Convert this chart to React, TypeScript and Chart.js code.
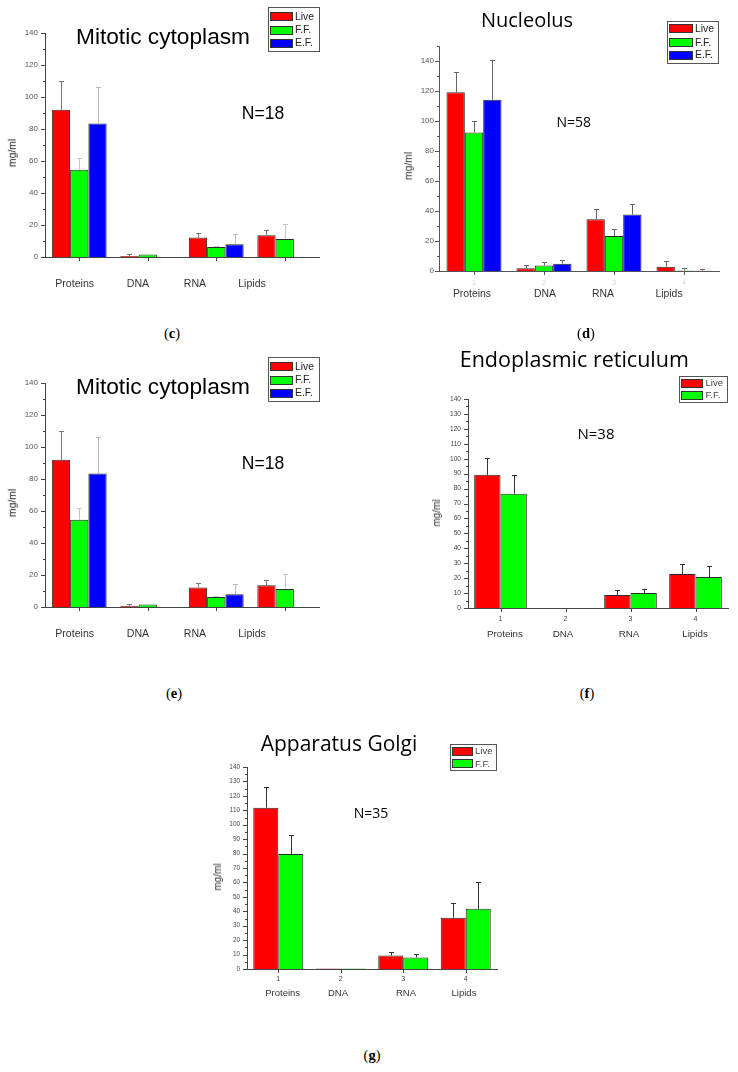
import React, { useEffect, useRef } from 'react';
import { Chart, registerables } from 'chart.js';

Chart.register(...registerables);

// ---------- DATA ----------
const categories = ['Proteins', 'DNA', 'RNA', 'Lipids'];
const tickNumbers = ['1', '2', '3', '4'];
const seriesNames = ['Live', 'F.F.', 'E.F.'];

// (c) and (e): Mitotic cytoplasm, N=18
const mitoticLive = [92, 0.7, 12.2, 13.6];
const mitoticLiveErr = [17.8, 1.0, 2.6, 3.5];
const mitoticFF = [54.5, 1.5, 6.2, 11.2];
const mitoticFFErr = [7.5, 0, 0.8, 9.3];
const mitoticEF = [83.5, null, 7.9, null];
const mitoticEFErr = [23, 0, 6.3, 0];
const mitoticYTicks = [0, 20, 40, 60, 80, 100, 120, 140];

// (d): Nucleolus, N=58
const nucleolusLive = [119.1, 1.8, 34.5, 2.9];
const nucleolusLiveErr = [13.3, 2.5, 6.7, 3.6];
const nucleolusFF = [92.4, 3.6, 23.3, 0.4];
const nucleolusFFErr = [7.8, 2.7, 4.4, 1.8];
const nucleolusEF = [114.2, 4.9, 37.6, 0.2];
const nucleolusEFErr = [26.7, 2.7, 6.9, 0.9];
const nucleolusYTicks = [0, 20, 40, 60, 80, 100, 120, 140];

// (f): Endoplasmic reticulum, N=38
const erLive = [89.2, null, 8.7, 22.7];
const erLiveErr = [11.1, 0, 3.3, 6.7];
const erFF = [76.5, null, 10, 20.7];
const erFFErr = [12.4, 0, 2.7, 7.6];
const erYTicks = [0, 10, 20, 30, 40, 50, 60, 70, 80, 90, 100, 110, 120, 130, 140];

// (g): Apparatus Golgi, N=35
const golgiLive = [111.7, 0.4, 9.3, 35.5];
const golgiLiveErr = [14.4, 0, 2.5, 10.2];
const golgiFF = [79.7, 0.4, 7.9, 41.7];
const golgiFFErr = [13.5, 0, 2.5, 18.3];
const golgiYTicks = [0, 10, 20, 30, 40, 50, 60, 70, 80, 90, 100, 110, 120, 130, 140];

// ---------- STYLE ----------
const RED = '#ff0000';
const GREEN = '#00ff00';
const BLUE = '#0000ff';
const SANS = '"Liberation Sans", Arial, sans-serif';
const CAL = '"Open Sans", sans-serif';
const SERIF = '"Liberation Serif", "DejaVu Serif", serif';

const PAD_L = 50;
const PAD_T = 15;
const PAD_R = 8;
const PAD_B = 30;

type Series = {
  label: string;
  color: string;
  data: (number | null)[];
  errors: number[];
  errorColor: string;
};

type Spec = {
  area: { l: number; t: number; r: number; b: number };
  yMax: number;
  yTicks: number[];
  minorStep: number;
  series: Series[];
  catPct: number;
  yFont: number;
  yPad: number;
  tickColor: string;
  axisColor: string;
  showNumbers: boolean;
  numColor: string;
  numFont: number;
  numPad: number;
};

const errorBarsPlugin = {
  id: 'errorBars',
  afterDatasetsDraw(chart: any) {
    const { ctx } = chart;
    const y = chart.scales.y;
    chart.data.datasets.forEach((ds: any, di: number) => {
      const meta = chart.getDatasetMeta(di);
      if (!ds.errors) return;
      meta.data.forEach((el: any, i: number) => {
        const v = ds.data[i];
        const e = ds.errors[i];
        if (v == null || !e) return;
        const x = Math.round(el.x) + 0.5;
        const yTop = Math.round(y.getPixelForValue(v + e)) + 0.5;
        const yBase = el.y;
        ctx.save();
        ctx.strokeStyle = ds.errorColor;
        ctx.lineWidth = 1;
        ctx.beginPath();
        ctx.moveTo(x, yBase);
        ctx.lineTo(x, yTop);
        ctx.moveTo(x - 2.5, yTop);
        ctx.lineTo(x + 2.5, yTop);
        ctx.stroke();
        ctx.restore();
      });
    });
  },
};

const tickMarksPlugin = {
  id: 'tickMarks',
  afterDraw(chart: any, _args: any, opts: any) {
    const { ctx, chartArea } = chart;
    const x = chart.scales.x;
    const y = chart.scales.y;
    ctx.save();
    ctx.strokeStyle = opts.color;
    ctx.lineWidth = 1;
    ctx.beginPath();
    const n = Math.round(opts.yMax / opts.minorStep);
    for (let k = 0; k <= n; k++) {
      const v = k * opts.minorStep;
      const py = Math.round(y.getPixelForValue(v)) + 0.5;
      const major = opts.majors.indexOf(v) >= 0;
      const len = major ? 4 : 2;
      ctx.moveTo(chartArea.left - len, py);
      ctx.lineTo(chartArea.left, py);
    }
    for (let i = 0; i < x.ticks.length; i++) {
      const px = Math.round(x.getPixelForTick(i)) + 0.5;
      ctx.moveTo(px, chartArea.bottom);
      ctx.lineTo(px, chartArea.bottom + 4);
    }
    ctx.stroke();
    ctx.restore();
  },
};

function ChartPanel({ spec }: { spec: Spec }) {
  const ref = useRef<HTMLCanvasElement>(null);
  const { l, t, r, b } = spec.area;
  const W = Math.round(r - l) + PAD_L + PAD_R;
  const H = Math.round(b - t) + PAD_T + PAD_B;

  useEffect(() => {
    if (!ref.current) return;
    const chart = new Chart(ref.current, {
      type: 'bar',
      data: {
        labels: categories,
        datasets: spec.series.map((s) => ({
          label: s.label,
          data: s.data,
          backgroundColor: s.color,
          borderColor: '#2a2a2a',
          borderWidth: 1,
          borderSkipped: 'start',
          categoryPercentage: spec.catPct,
          barPercentage: 1,
          errors: s.errors,
          errorColor: s.errorColor,
        })) as any,
      },
      options: {
        animation: false,
        responsive: false,
        events: [],
        layout: { padding: { left: 0, top: PAD_T, right: PAD_R, bottom: 0 } },
        plugins: {
          legend: { display: false },
          tooltip: { enabled: false },
          title: { display: false },
          tickMarks: { color: spec.axisColor, yMax: spec.yMax, minorStep: spec.minorStep, majors: spec.yTicks },
        } as any,
        scales: {
          x: {
            type: 'category',
            offset: true,
            grid: { display: false, drawTicks: false, offset: false },
            border: { display: true, color: spec.axisColor, width: 1 },
            ticks: {
              display: spec.showNumbers,
              autoSkip: false,
              maxRotation: 0,
              color: spec.numColor,
              font: { family: SANS, size: spec.numFont },
              padding: spec.numPad,
              callback: (_v: any, i: number) => tickNumbers[i],
            },
            afterFit: (s: any) => {
              s.height = PAD_B;
            },
          },
          y: {
            min: 0,
            max: spec.yMax,
            grid: { display: false, drawTicks: false },
            border: { display: true, color: spec.axisColor, width: 1 },
            ticks: {
              autoSkip: false,
              color: spec.tickColor,
              font: { family: SANS, size: spec.yFont },
              padding: spec.yPad,
            },
            afterBuildTicks: (s: any) => {
              s.ticks = spec.yTicks.map((v) => ({ value: v }));
            },
            afterFit: (s: any) => {
              s.width = PAD_L;
            },
          },
        } as any,
      },
      plugins: [errorBarsPlugin, tickMarksPlugin],
    } as any);
    return () => chart.destroy();
  }, []);

  return (
    <canvas
      ref={ref}
      width={W}
      height={H}
      style={{ position: 'absolute', left: Math.round(l) - PAD_L, top: Math.round(t) - PAD_T, width: W, height: H }}
    />
  );
}

function Txt(props: {
  text: string;
  x: number;
  y: number;
  size: number;
  family?: string;
  color?: string;
  weight?: string | number;
  rotate?: boolean;
  spacing?: number;
}) {
  const { text, x, y, size, family = SANS, color = '#000', weight = 'normal', rotate = false, spacing = 0 } = props;
  return (
    <div
      style={{
        position: 'absolute',
        left: x,
        top: y,
        transform: `translate(-50%, -50%)${rotate ? ' rotate(-90deg)' : ''}`,
        fontFamily: family,
        fontSize: size,
        lineHeight: 1,
        color,
        fontWeight: weight as any,
        whiteSpace: 'nowrap',
        letterSpacing: spacing,
      }}
    >
      {text}
    </div>
  );
}

function PanelLetter({ letter, x, y }: { letter: string; x: number; y: number }) {
  return (
    <div
      style={{
        position: 'absolute',
        left: x,
        top: y,
        transform: 'translate(-50%, -50%)',
        fontFamily: SERIF,
        fontSize: 14.5,
        lineHeight: 1,
        color: '#000',
        whiteSpace: 'nowrap',
      }}
    >
      (<b>{letter}</b>)
    </div>
  );
}

function Legend(props: {
  left: number;
  top: number;
  width: number;
  height: number;
  swX: number;
  swW: number;
  swH: number;
  textX: number;
  rows: number[];
  labels: string[];
  colors: string[];
  size: number;
  textColor?: string;
}) {
  const { left, top, width, height, swX, swW, swH, textX, rows, labels, colors, size, textColor = '#222' } = props;
  return (
    <>
      <div
        style={{
          position: 'absolute',
          left,
          top,
          width: width - 2,
          height: height - 2,
          border: '1px solid #555',
          background: '#fff',
        }}
      />
      {labels.map((lab, i) => (
        <React.Fragment key={lab}>
          <div
            style={{
              position: 'absolute',
              left: swX,
              top: rows[i] - swH / 2,
              width: swW - 2,
              height: swH - 2,
              border: '1px solid #333',
              background: colors[i],
            }}
          />
          <div
            style={{
              position: 'absolute',
              left: textX,
              top: rows[i],
              transform: 'translateY(-50%)',
              fontFamily: SANS,
              fontSize: size,
              lineHeight: 1,
              color: textColor,
              whiteSpace: 'nowrap',
            }}
          >
            {lab}
          </div>
        </React.Fragment>
      ))}
    </>
  );
}

const mitoticSeries: Series[] = [
  { label: seriesNames[0], color: RED, data: mitoticLive, errors: mitoticLiveErr, errorColor: '#777' },
  { label: seriesNames[1], color: GREEN, data: mitoticFF, errors: mitoticFFErr, errorColor: '#c4c4c4' },
  { label: seriesNames[2], color: BLUE, data: mitoticEF, errors: mitoticEFErr, errorColor: '#b8b8b8' },
];

const nucleolusSeries: Series[] = [
  { label: seriesNames[0], color: RED, data: nucleolusLive, errors: nucleolusLiveErr, errorColor: '#666' },
  { label: seriesNames[1], color: GREEN, data: nucleolusFF, errors: nucleolusFFErr, errorColor: '#666' },
  { label: seriesNames[2], color: BLUE, data: nucleolusEF, errors: nucleolusEFErr, errorColor: '#666' },
];

const erSeries: Series[] = [
  { label: seriesNames[0], color: RED, data: erLive, errors: erLiveErr, errorColor: '#333' },
  { label: seriesNames[1], color: GREEN, data: erFF, errors: erFFErr, errorColor: '#333' },
];

const golgiSeries: Series[] = [
  { label: seriesNames[0], color: RED, data: golgiLive, errors: golgiLiveErr, errorColor: '#333' },
  { label: seriesNames[1], color: GREEN, data: golgiFF, errors: golgiFFErr, errorColor: '#333' },
];

const mitoticSpec = (dy: number): Spec => ({
  area: { l: 45, t: 33 + dy, r: 319, b: 257 + dy },
  yMax: 140,
  yTicks: mitoticYTicks,
  minorStep: 10,
  series: mitoticSeries,
  catPct: 0.8,
  yFont: 8,
  yPad: 7,
  tickColor: '#555',
  axisColor: '#444',
  showNumbers: false,
  numColor: '#ccc',
  numFont: 8,
  numPad: 7,
});

const nucleolusSpec: Spec = {
  area: { l: 439, t: 46, r: 719, b: 271 },
  yMax: 150,
  yTicks: nucleolusYTicks,
  minorStep: 10,
  series: nucleolusSeries,
  catPct: 0.786,
  yFont: 8,
  yPad: 5,
  tickColor: '#555',
  axisColor: '#555',
  showNumbers: true,
  numColor: '#d8d8d8',
  numFont: 8,
  numPad: 7,
};

const erSpec: Spec = {
  area: { l: 468, t: 399, r: 728, b: 608 },
  yMax: 140,
  yTicks: erYTicks,
  minorStep: 5,
  series: erSeries,
  catPct: 0.81,
  yFont: 6.6,
  yPad: 7,
  tickColor: '#444',
  axisColor: '#444',
  showNumbers: true,
  numColor: '#444',
  numFont: 7,
  numPad: 7,
};

const golgiSpec: Spec = {
  area: { l: 247, t: 767, r: 497, b: 969 },
  yMax: 140,
  yTicks: golgiYTicks,
  minorStep: 5,
  series: golgiSeries,
  catPct: 0.8,
  yFont: 6.4,
  yPad: 7,
  tickColor: '#444',
  axisColor: '#444',
  showNumbers: true,
  numColor: '#444',
  numFont: 7,
  numPad: 6,
};

const mitoticNameX = [74.7, 138, 195, 252];
const nucleolusNameX = [472, 545, 603, 669];
const erNameX = [505, 563, 629, 695];
const golgiNameX = [282.7, 338, 406, 464];

function MitoticPanel({ dy }: { dy: number }) {
  return (
    <>
      <ChartPanel spec={mitoticSpec(dy)} />
      <Txt text="Mitotic cytoplasm" x={163} y={35.7 + dy} size={22.7} />
      <Txt text="N=18" x={263} y={114.3 + dy} size={17.5} />
      <Txt text="mg/ml" x={13} y={152.5 + dy} size={10.4} rotate color="#222" />
      {categories.map((c, i) => (
        <Txt key={c} text={c} x={mitoticNameX[i]} y={282.5 + dy} size={10.6} color="#333" />
      ))}
      <Legend
        left={268}
        top={7 + dy}
        width={52}
        height={45}
        swX={270}
        swW={23}
        swH={9}
        textX={295}
        rows={[16.8 + dy, 30 + dy, 43 + dy]}
        labels={seriesNames}
        colors={[RED, GREEN, BLUE]}
        size={10.4}
      />
    </>
  );
}

export default function App() {
  return (
    <div
      style={{
        position: 'absolute',
        left: 0,
        top: 0,
        width: 738,
        height: 1072,
        overflow: 'hidden',
        background: '#fff',
      }}
    >
      {/* (c) */}
      <MitoticPanel dy={0} />
      <PanelLetter letter="c" x={172} y={333} />

      {/* (d) Nucleolus */}
      <ChartPanel spec={nucleolusSpec} />
      <Txt text="Nucleolus" x={527} y={20} size={20} family={CAL} />
      <Txt text="N=58" x={573.7} y={122.3} size={14} family={CAL} />
      <Txt text="mg/ml" x={408.7} y={166} size={10.4} rotate color="#333" />
      {categories.map((c, i) => (
        <Txt key={c} text={c} x={nucleolusNameX[i]} y={294.3} size={10.4} color="#333" />
      ))}
      <Legend
        left={667}
        top={21}
        width={52}
        height={43}
        swX={669}
        swW={24}
        swH={9}
        textX={695}
        rows={[28.7, 42.5, 55.3]}
        labels={seriesNames}
        colors={[RED, GREEN, BLUE]}
        size={10.4}
      />
      <PanelLetter letter="d" x={586} y={333} />

      {/* (e) */}
      <MitoticPanel dy={350} />
      <PanelLetter letter="e" x={174} y={693} />

      {/* (f) Endoplasmic reticulum */}
      <ChartPanel spec={erSpec} />
      <Txt text="Endoplasmic reticulum" x={574.3} y={358.8} size={21.5} family={CAL} />
      <Txt text="N=38" x={596} y={432.8} size={15} family={CAL} />
      <Txt text="mg/ml" x={437} y={513} size={10} rotate color="#333" />
      {categories.map((c, i) => (
        <Txt key={c} text={c} x={erNameX[i]} y={634} size={9.8} color="#333" />
      ))}
      <Legend
        left={679}
        top={376}
        width={49}
        height={27}
        swX={681}
        swW={22}
        swH={9}
        textX={705.5}
        rows={[383, 395.3]}
        labels={seriesNames.slice(0, 2)}
        colors={[RED, GREEN]}
        size={9.5}
        textColor="#444"
      />
      <PanelLetter letter="f" x={587} y={693} />

      {/* (g) Apparatus Golgi */}
      <ChartPanel spec={golgiSpec} />
      <Txt text="Apparatus Golgi" x={339} y={742.5} size={21} family={CAL} />
      <Txt text="N=35" x={371} y={812.5} size={14} family={CAL} />
      <Txt text="mg/ml" x={217.5} y={876.7} size={10} rotate color="#333" />
      {categories.map((c, i) => (
        <Txt key={c} text={c} x={golgiNameX[i]} y={993} size={9.5} color="#333" />
      ))}
      <Legend
        left={450}
        top={744}
        width={47}
        height={27}
        swX={452}
        swW={21}
        swH={9}
        textX={475}
        rows={[751.3, 763.7]}
        labels={seriesNames.slice(0, 2)}
        colors={[RED, GREEN]}
        size={9.5}
        textColor="#444"
      />
      <PanelLetter letter="g" x={372} y={1055} />
    </div>
  );
}
